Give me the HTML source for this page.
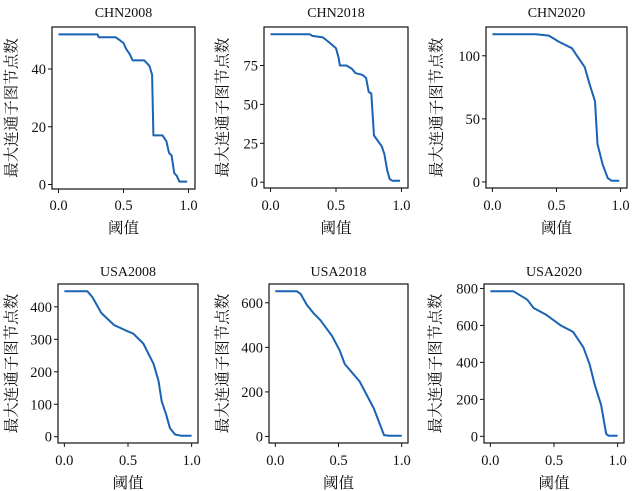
<!DOCTYPE html>
<html><head><meta charset="utf-8">
<style>
html,body{margin:0;padding:0;background:#fff;}
svg{display:block;}
text{font-family:"Liberation Serif","Noto Serif CJK SC",serif;fill:#111;}
</style></head>
<body>
<svg id="fig" width="637" height="491" viewBox="0 0 637 491" xmlns="http://www.w3.org/2000/svg"></svg>
<script>
// ---- data ----
const titles = ["CHN2008","CHN2018","CHN2020","USA2008","USA2018","USA2020"];
const xTickLabels = ["0.0","0.5","1.0"];
const xTicks = [0,0.5,1.0];
const yTicksCHN2008 = [0,20,40];
const yTicksCHN2018 = [0,25,50,75];
const yTicksCHN2020 = [0,50,100];
const yTicksUSA2008 = [0,100,200,300,400];
const yTicksUSA2018 = [0,200,400,600];
const yTicksUSA2020 = [0,200,400,600,800];

const xCHN2008 = [0,0.3,0.31,0.44,0.47,0.5,0.52,0.55,0.57,0.66,0.68,0.7,0.72,0.73,0.8,0.83,0.85,0.87,0.89,0.91,0.93,0.99];
const yCHN2008 = [52,52,51,51,50,49,47,45,43,43,42,41,38,17,17,15,11,10,4,3,1,1];

const xCHN2018 = [0,0.3,0.32,0.4,0.43,0.46,0.5,0.52,0.53,0.58,0.62,0.65,0.7,0.73,0.75,0.77,0.79,0.85,0.87,0.89,0.91,0.93,0.99];
const yCHN2018 = [95,95,94,93,91,89,86,80,75,75,73,70,69,67,58,57,30,23,18,8,2,1,1];

const xCHN2020 = [0,0.34,0.44,0.52,0.62,0.66,0.72,0.76,0.8,0.82,0.86,0.9,0.93,0.99];
const yCHN2020 = [117,117,116,111,106,100,91,77,64,30,14,3,1,1];

const xUSA2008 = [0,0.18,0.22,0.29,0.39,0.49,0.54,0.62,0.7,0.74,0.765,0.8,0.83,0.87,0.92,1.0];
const yUSA2008 = [448,448,430,381,344,326,318,287,225,172,109,68,26,7,3,3];

const xUSA2018 = [0,0.17,0.2,0.25,0.3,0.357,0.45,0.51,0.55,0.667,0.78,0.86,0.9,1.0];
const yUSA2018 = [652,652,640,590,555,522,450,385,325,247,125,6,3,3];

const xUSA2020 = [0,0.18,0.29,0.34,0.44,0.55,0.65,0.73,0.78,0.82,0.87,0.91,0.93,1.0];
const yUSA2020 = [785,785,739,694,657,601,565,482,390,280,170,13,3,3];

const seriesX = [xCHN2008,xCHN2018,xCHN2020,xUSA2008,xUSA2018,xUSA2020];
const seriesY = [yCHN2008,yCHN2018,yCHN2020,yUSA2008,yUSA2018,yUSA2020];
const yTickSets = [yTicksCHN2008,yTicksCHN2018,yTicksCHN2020,yTicksUSA2008,yTicksUSA2018,yTicksUSA2020];

// ---- layout (pixel boxes) ----
const boxes = [
 {l:52,r:195,t:27,b:189,ylab:12,title:12,tick:210,xlab:228},
 {l:264,r:408,t:27,b:188,ylab:223,title:12,tick:210,xlab:228},
 {l:486,r:627,t:27,b:188,ylab:437,title:12,tick:210,xlab:228},
 {l:58,r:198,t:284,b:443,ylab:12,title:271,tick:465,xlab:483},
 {l:269,r:408,t:284,b:443,ylab:223,title:271,tick:465,xlab:483},
 {l:484,r:624,t:284,b:443,ylab:436,title:271,tick:465,xlab:483}
];
const svg = document.getElementById('fig');
const NS = 'http://www.w3.org/2000/svg';
function mk(tag, attrs, parent){
  const e = document.createElementNS(NS, tag);
  for (const k in attrs) e.setAttribute(k, attrs[k]);
  (parent||svg).appendChild(e);
  return e;
}
boxes.forEach((B,i)=>{
  const g = mk('g',{});
  
  
  const xs = seriesX[i], ys = seriesY[i];
  const x0 = -0.05, x1 = 1.05;
  const ymin = Math.min(...ys), ymax = Math.max(...ys);
  const yr = (ymax - ymin) || 1;
  const y0 = ymin - 0.05*yr, y1 = ymax + 0.05*yr;
  const sx = v => B.l + (v - x0)/(x1 - x0)*(B.r - B.l);
  const sy = v => B.b - (v - y0)/(y1 - y0)*(B.b - B.t);
  const fr = mk('rect',{x:B.l,y:B.t,width:B.r-B.l,height:B.b-B.t,fill:'none',stroke:'#111','stroke-width':1.2},g);
  
  
  const d = xs.map((x,j)=>(j?'L':'M')+sx(x).toFixed(1)+','+sy(ys[j]).toFixed(1)).join(' ');
  const ln = mk('path',{d:d,fill:'none',stroke:'#1a62b3','stroke-width':2,'stroke-linejoin':'round'},g);
  
  
  xTicks.forEach((t,j)=>{
    const x = sx(t);
    mk('line',{x1:x,x2:x,y1:B.b,y2:B.b+4,stroke:'#111','stroke-width':1},g);
    const tx = mk('text',{x:x,y:B.tick,'text-anchor':'middle','font-size':14.5},g);
    tx.textContent = xTickLabels[j];
    
    
  });
  yTickSets[i].forEach(t=>{
    const y = sy(t);
    mk('line',{x1:B.l-4,x2:B.l,y1:y,y2:y,stroke:'#111','stroke-width':1},g);
    const tx = mk('text',{x:B.l-6,y:y+5,'text-anchor':'end','font-size':14.5},g);
    tx.textContent = String(t);
    
    
  });
  const tt = mk('text',{x:(B.l+B.r)/2,y:B.title+5,'text-anchor':'middle','font-size':14},g);
  tt.textContent = titles[i];
  
  
  const xl = mk('text',{x:(B.l+B.r)/2,y:B.xlab+5,'text-anchor':'middle','font-size':15.5},g);
  xl.textContent = '阈值';
  
  
  const cy = (B.t+B.b)/2;
  const yl = mk('text',{x:B.ylab,y:cy,'text-anchor':'middle','font-size':15.5,transform:'rotate(-90 '+B.ylab+' '+cy+')','dominant-baseline':'central'},g);
  yl.textContent = '最大连通子图节点数';
  
  
});
</script>
</body></html>
